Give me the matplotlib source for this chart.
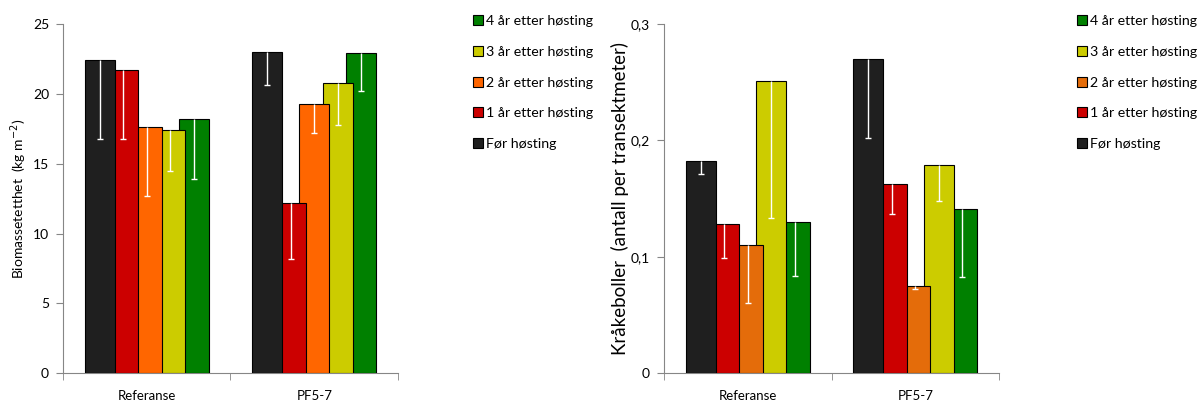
import numpy as np
import matplotlib
matplotlib.use("Agg")
from matplotlib import pyplot as plt
from matplotlib.patches import Patch

plt.rcParams['font.family'] = ['Lato', 'DejaVu Sans']

groups = ["Referanse", "PF5-7"]
series = ["Før høsting", "1 år etter høsting", "2 år etter høsting",
          "3 år etter høsting", "4 år etter høsting"]

# biomass (kg m-2), per series: [Referanse, PF5-7]
bio_vals = [[22.4, 23.0], [21.7, 12.2], [17.6, 19.3], [17.4, 20.8], [18.2, 22.9]]
bio_low = [[16.8, 20.6], [16.8, 8.2], [12.7, 17.2], [14.5, 17.8], [13.9, 20.2]]

# sea urchins (antall per transektmeter)
urch_vals = [[0.182, 0.270], [0.128, 0.163], [0.110, 0.075], [0.251, 0.179], [0.130, 0.141]]
urch_low = [[0.171, 0.202], [0.099, 0.137], [0.060, 0.072], [0.133, 0.148], [0.084, 0.083]]

colors_left = ["#1f1f1f", "#cc0000", "#ff6600", "#cccc00", "#008000"]
colors_right = ["#1f1f1f", "#cc0000", "#e46c0a", "#cccc00", "#008000"]

fig = plt.figure(figsize=(11.99, 4), dpi=100)


def draw_panel(rect, vals, lows, colors, yticks, yticklabels, ylabel, ylabel_size, leg_x):
    ax = fig.add_axes(rect)
    x = np.arange(len(groups))
    step = 0.14
    width = 0.18
    for i, name in enumerate(series):
        pos = x + (i - 2) * step
        v = np.array(vals[i])
        lo = np.array(lows[i])
        ax.bar(pos, v, width=width, color=colors[i], edgecolor="black",
               linewidth=0.8, zorder=10 - i)
        eb = ax.errorbar(pos, v, yerr=[v - lo, np.zeros_like(v)], fmt="none",
                         ecolor="white", elinewidth=1, capsize=2, capthick=1, zorder=20)
        eb[1][1].set_visible(False)
    ax.set_xlim(-0.5, 1.5)
    ax.set_ylim(yticks[0], yticks[-1])
    ax.set_yticks(yticks)
    ax.set_yticklabels(yticklabels)
    ax.set_xticks(x)
    ax.set_xticklabels(groups)
    ax.set_xticks([-0.5, 0.5, 1.5], minor=True)
    ax.tick_params(axis="x", which="major", length=0, pad=12, labelsize=9.5)
    ax.tick_params(axis="x", which="minor", length=5, color="#868686", direction="out")
    ax.tick_params(axis="y", length=5, color="#868686", pad=5, labelsize=10)
    for s in ["top", "right"]:
        ax.spines[s].set_visible(False)
    for s in ["left", "bottom"]:
        ax.spines[s].set_color("#868686")
    ax.set_ylabel(ylabel, fontsize=ylabel_size)
    handles = [Patch(facecolor=colors[i], edgecolor="black", linewidth=0.8, label=series[i])
               for i in range(len(series))][::-1]
    fig.legend(handles=handles, loc="upper left", bbox_to_anchor=(leg_x, 0.977),
               frameon=False, fontsize=10.2, handlelength=0.7, handleheight=0.7,
               handletextpad=0.25, labelspacing=1.33, borderaxespad=0)
    return ax


ax1 = draw_panel([0.0525, 0.0667, 0.2794, 0.8733], bio_vals, bio_low, colors_left,
                 [0, 5, 10, 15, 20, 25], ["0", "5", "10", "15", "20", "25"],
                 "Biomassetetthet  (kg m$^{-2}$)", 10, 0.3895)
ax1.yaxis.set_label_coords(-0.1, 0.5)

ax2 = draw_panel([0.5538, 0.0667, 0.2794, 0.8733], urch_vals, urch_low, colors_right,
                 [0, 0.1, 0.2, 0.3], ["0", "0,1", "0,2", "0,3"],
                 "Kråkeboller  (antall per transektmeter)", 13.5, 0.8935)
ax2.yaxis.set_label_coords(-0.105, 0.5)

fig.savefig("out.png", dpi=100)
